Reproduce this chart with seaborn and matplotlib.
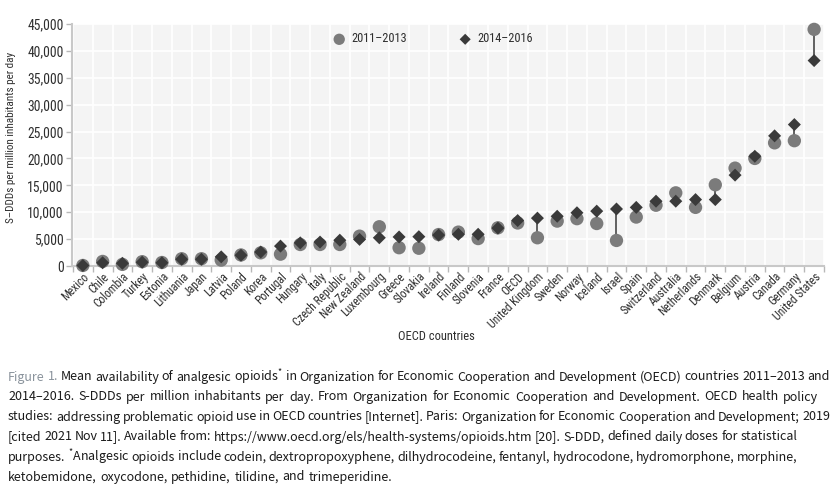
import matplotlib
matplotlib.use("Agg")
import matplotlib.pyplot as plt
from matplotlib import font_manager
from matplotlib.font_manager import FontProperties
import numpy as np
import pandas as pd
import seaborn as sns

countries = ["Mexico", "Chile", "Colombia", "Turkey", "Estonia", "Lithuania", "Japan",
             "Latvia", "Poland", "Korea", "Portugal", "Hungary", "Italy", "Czech Republic",
             "New Zealand", "Luxembourg", "Greece", "Slovakia", "Ireland", "Finland",
             "Slovenia", "France", "OECD", "United Kingdom", "Sweden", "Norway", "Iceland",
             "Israel", "Spain", "Switzerland", "Australia", "Netherlands", "Denmark",
             "Belgium", "Austria", "Canada", "Germany", "United States"]

ddd_2011_2013 = [100, 850, 300, 800, 650, 1350, 1350, 1100, 2050, 2450,
                 2200, 4000, 4000, 4000, 5550, 7300, 3400, 3300, 5850, 6300,
                 5100, 7100, 8000, 5250, 8350, 8800, 7900, 4750, 9100, 11300,
                 13600, 10900, 15100, 18200, 20000, 22900, 23300, 44000]

ddd_2014_2016 = [100, 600, 500, 700, 600, 1250, 1250, 1700, 2000, 2600,
                 3700, 4300, 4450, 4800, 4950, 5250, 5400, 5450, 5750, 5900,
                 5900, 7050, 8450, 8900, 9250, 9900, 10200, 10600, 10900, 12050,
                 12050, 12350, 12350, 16900, 20400, 24200, 26300, 38200]

caption_lines = [
    "Figure 1. Mean availability of analgesic opioids$^{*}$ in Organization for Economic Cooperation and Development (OECD) countries 2011–2013 and",
    "2014–2016. S-DDDs per million inhabitants per day. From Organization for Economic Cooperation and Development. OECD health policy",
    "studies: addressing problematic opioid use in OECD countries [Internet]. Paris: Organization for Economic Cooperation and Development; 2019",
    "[cited 2021 Nov 11]. Available from: https://www.oecd.org/els/health-systems/opioids.htm [20]. S-DDD, defined daily doses for statistical",
    "purposes. $^{*}$Analgesic opioids include codein, dextropropoxyphene, dilhydrocodeine, fentanyl, hydrocodone, hydromorphone, morphine,",
    "ketobemidone, oxycodone, pethidine, tilidine, and trimeperidine.",
]
caption_right = [830, 818, 830, 797, 798, None]

W, H = 839, 493


def find_narrow():
    # look for a condensed sans file; the chart text is a narrow face
    files = [f.fname for f in font_manager.fontManager.ttflist]
    prefs = ["liberationsansnarrow-regular", "robotocondensed-regular",
             "dejavusanscondensed.", "opensans_condensed-regular", "notosans-condensed."]
    for p in prefs:
        for fn in files:
            if p in fn.lower().replace(" ", ""):
                return fn
    return None


narrow_file = find_narrow()
scale = 1.0 if narrow_file else 0.82


def chart_font(size):
    if narrow_file:
        return FontProperties(fname=narrow_file, size=size)
    return FontProperties(family="Liberation Sans", size=size * scale)


sns.set_theme(style="whitegrid")
plt.rcParams["font.family"] = ["Liberation Sans", "DejaVu Sans"]
plt.rcParams["mathtext.default"] = "regular"

fig = plt.figure(figsize=(W / 100, H / 100), dpi=100)
fig.patch.set_facecolor("white")
ax = fig.add_axes([72 / W, 1 - 266 / H, 752 / W, 242 / H])
ax.set_facecolor("#f4f4f4")

df = pd.DataFrame({"x": np.arange(len(countries)), "country": countries,
                   "early": ddd_2011_2013, "late": ddd_2014_2016})

# connectors between the two periods
ax.vlines(df["x"], df["early"], df["late"], color="#555555", lw=1.3, zorder=2)

sns.scatterplot(data=df, x="x", y="early", ax=ax, marker="o", s=92,
                color="#7b7b7b", edgecolor="none", label="2011–2013",
                zorder=3, clip_on=False)
sns.scatterplot(data=df, x="x", y="late", ax=ax, marker="D", s=44,
                color="#3a3a3a", edgecolor="none", label="2014–2016",
                zorder=4, clip_on=False)

ax.set_xlim(-0.55, len(countries) - 0.55)
ax.set_ylim(0, 45000)
ax.set_yticks(np.arange(0, 45001, 5000))
ax.set_yticklabels([f"{v:,}" for v in range(0, 45001, 5000)])
ax.set_xticks(df["x"])
ax.set_xticklabels(countries, rotation=45, ha="right", rotation_mode="anchor")
ax.set_xticks(np.arange(-0.5, len(countries), 1), minor=True)

ax.grid(False)
ax.grid(True, axis="y", which="major", color="white", lw=1.2)
ax.grid(True, axis="x", which="minor", color="white", lw=1.2)
ax.set_axisbelow(True)

for side in ["top", "right"]:
    ax.spines[side].set_visible(False)
for side in ["left", "bottom"]:
    ax.spines[side].set_color("#c8c8c8")
    ax.spines[side].set_linewidth(1.5)

ax.tick_params(axis="y", which="major", left=True, length=4, width=1, color="#b8b8b8",
               labelcolor="#2e2e2e", pad=2)
ax.tick_params(axis="x", which="major", bottom=False, length=0,
               labelcolor="#2e2e2e", pad=3)
ax.tick_params(axis="x", which="minor", bottom=True, length=4, width=1, color="#b8b8b8")
for lab in ax.get_yticklabels():
    lab.set_fontproperties(chart_font(9.8))
for lab in ax.get_xticklabels():
    lab.set_fontproperties(chart_font(8.4))

ax.set_xlabel("OECD countries", color="#2e2e2e", fontproperties=chart_font(9))
ax.xaxis.set_label_coords((436 - 72) / 752, (266 - 330) / 242)
ax.set_ylabel("S–DDDs per million inhabitants per day", color="#2e2e2e",
              fontproperties=chart_font(8))
ax.yaxis.set_label_coords((16 - 72) / 752, (266 - 137) / 242)

leg_prop = chart_font(8.8)
leg_px = leg_prop.get_size_in_points() * 100 / 72
leg = ax.legend(loc="center", bbox_to_anchor=((433 - 72) / 752, (266 - 39) / 242),
                ncol=2, frameon=False, prop=leg_prop, handlelength=1.0,
                handletextpad=0.5, columnspacing=52 / leg_px, markerscale=0.85)
for t in leg.get_texts():
    t.set_color("#2e2e2e")

# caption, justified word by word
cap_font = ["Noto Sans CJK KR", "DejaVu Sans"]
renderer = fig.canvas.get_renderer()
left = 8


def measure(s, size):
    t = fig.text(0, 0, s, fontsize=size, family=cap_font)
    w = t.get_window_extent(renderer).width
    t.remove()
    return w


# shrink the caption size until every justified line fits with sane spacing
cap_size = 9.8
while cap_size > 7:
    space = measure("a a", cap_size) - measure("aa", cap_size)
    ok = True
    for line, right in zip(caption_lines, caption_right):
        if right is None:
            continue
        words = line.split(" ")
        need = sum(measure(w, cap_size) for w in words) + space * 0.8 * (len(words) - 1)
        if need > right - left:
            ok = False
            break
    if ok:
        break
    cap_size -= 0.1

space = measure("a a", cap_size) - measure("aa", cap_size)
for i, line in enumerate(caption_lines):
    y = 1 - (377 + 20.0 * i) / H
    words = line.split(" ")
    arts = []
    for j, w in enumerate(words):
        color = "#8a939c" if (i == 0 and j < 2) else "#1a1a1a"
        arts.append(fig.text(0, y, w, fontsize=cap_size, family=cap_font, color=color,
                             va="center", ha="left"))
    widths = [a.get_window_extent(renderer).width for a in arts]
    if caption_right[i] is not None and len(words) > 1:
        gap = (caption_right[i] - left - sum(widths)) / (len(words) - 1)
    else:
        gap = space * 1.3
    xpos = left
    for a, wd in zip(arts, widths):
        a.set_x(xpos / W)
        xpos += wd + gap

fig.savefig("out.png", dpi=100)
